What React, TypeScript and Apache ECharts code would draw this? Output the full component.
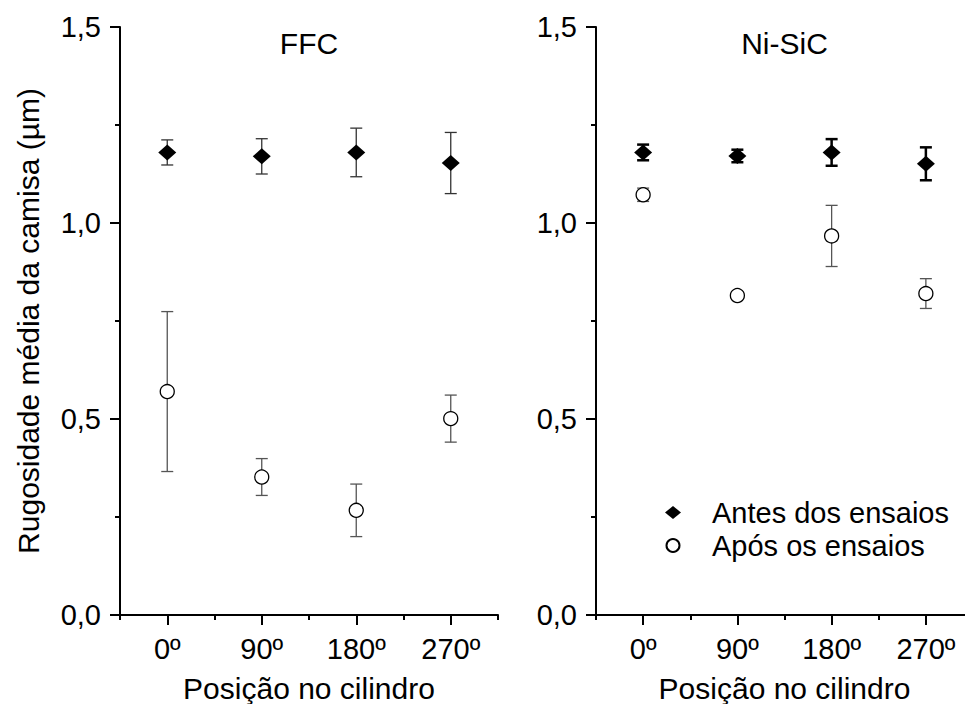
import React, { useEffect, useRef } from "react";
import * as echarts from "echarts";

const positions = ["0º", "90º", "180º", "270º"];
const ffcBefore = [1.18, 1.17, 1.18, 1.153];
const ffcBeforeErr = [0.032, 0.045, 0.062, 0.078];
const ffcAfter = [0.57, 0.352, 0.267, 0.501];
const ffcAfterErr = [0.204, 0.047, 0.067, 0.06];
const nisicBefore = [1.18, 1.171, 1.18, 1.151];
const nisicBeforeErr = [0.02, 0.016, 0.034, 0.042];
const nisicAfter = [1.072, 0.815, 0.967, 0.82];
const nisicAfterErr = [0.017, 0.008, 0.078, 0.038];
const panelTitles = ["FFC", "Ni-SiC"];
const yTitle = "Rugosidade média da camisa (µm)";
const xTitle = "Posição no cilindro";
const seriesNames = ["Antes dos ensaios", "Após os ensaios"];

const FONT = "Liberation Sans, Arial, Helvetica, sans-serif";
const FS_TICK = 29;
const FS_NAME = 30;
const FS_LEG = 29;

function errBar(gridIdx: number, vals: number[], errs: number[], color: string, width: number) {
  return {
    type: "custom",
    name: "err",
    xAxisIndex: gridIdx * 2,
    yAxisIndex: gridIdx,
    silent: true,
    z: 1,
    data: vals.map((v, i) => [i, v, errs[i]]),
    renderItem: (params: any, api: any) => {
      const x = api.value(0);
      const y = api.value(1);
      const e = api.value(2);
      const top = api.coord([x, y + e]);
      const bot = api.coord([x, y - e]);
      const hw = 6;
      const style = { stroke: color, lineWidth: width };
      return {
        type: "group",
        children: [
          { type: "line", shape: { x1: top[0], y1: top[1], x2: bot[0], y2: bot[1] }, style },
          { type: "line", shape: { x1: top[0] - hw, y1: top[1], x2: top[0] + hw, y2: top[1] }, style },
          { type: "line", shape: { x1: bot[0] - hw, y1: bot[1], x2: bot[0] + hw, y2: bot[1] }, style },
        ],
      };
    },
  };
}

function scatter(gridIdx: number, vals: number[], kind: number) {
  return {
    type: "scatter",
    name: seriesNames[kind],
    xAxisIndex: gridIdx * 2,
    yAxisIndex: gridIdx,
    z: 3,
    symbol: kind === 0 ? "diamond" : "circle",
    symbolSize: kind === 0 ? [18, 16] : 14,
    itemStyle:
      kind === 0
        ? { color: "#000", opacity: 1 }
        : { color: "#fff", borderColor: "#000", borderWidth: 1.3, opacity: 1 },
    data: vals.map((v, i) => [i, v]),
  };
}

export default function App() {
  const ref = useRef<HTMLDivElement>(null);
  useEffect(() => {
    if (!ref.current) return;
    const chart = echarts.init(ref.current, undefined, { renderer: "svg" });
    const grids = [
      { left: 120, top: 27, width: 378, height: 588, outerBoundsMode: "none", containLabel: false },
      { left: 596, top: 27, width: 377, height: 588, outerBoundsMode: "none", containLabel: false },
    ];
    const xAxes: any[] = [];
    const yAxes: any[] = [];
    grids.forEach((g, gi) => {
      xAxes.push({
        type: "category",
        gridIndex: gi,
        position: "bottom",
        data: positions,
        boundaryGap: true,
        axisLine: { show: true, lineStyle: { color: "#000", width: 2 } },
        axisTick: { show: true, alignWithLabel: true, length: 10, lineStyle: { color: "#000", width: 2 } },
        axisLabel: { color: "#000", fontSize: FS_TICK, fontFamily: FONT, margin: 19 },
        splitLine: { show: false },
        name: xTitle,
        nameLocation: "middle",
        nameGap: 58,
        nameTextStyle: { color: "#000", fontSize: FS_NAME, fontFamily: FONT, lineHeight: 30 },
      });
      xAxes.push({
        type: "category",
        gridIndex: gi,
        position: "bottom",
        offset: 0,
        data: positions,
        boundaryGap: true,
        axisLine: { show: false },
        axisTick: { show: true, length: 5, lineStyle: { color: "#000", width: 2 } },
        axisLabel: { show: false },
        splitLine: { show: false },
      });
      yAxes.push({
        type: "value",
        gridIndex: gi,
        min: 0,
        max: 1.5,
        interval: 0.5,
        axisLine: { show: true, lineStyle: { color: "#000", width: 2 } },
        axisTick: { show: true, length: 10, lineStyle: { color: "#000", width: 2 } },
        minorTick: { show: true, splitNumber: 2, length: 5, lineStyle: { color: "#000", width: 2 } },
        splitLine: { show: false },
        minorSplitLine: { show: false },
        axisLabel: {
          color: "#000",
          fontSize: FS_TICK,
          fontFamily: FONT,
          margin: 19,
          formatter: (v: number) => v.toFixed(1).replace(".", ","),
        },
        name: gi === 0 ? yTitle : "",
        nameLocation: "middle",
        nameGap: 77,
        nameTextStyle: { color: "#000", fontSize: FS_NAME, fontFamily: FONT },
      });
    });

    const option: any = {
      animation: false,
      backgroundColor: "#fff",
      grid: grids,
      xAxis: xAxes,
      yAxis: yAxes,
      legend: {
        data: [
          { name: seriesNames[0], icon: "diamond" },
          { name: seriesNames[1], icon: "circle" },
        ],
        orient: "vertical",
        left: 660,
        top: 493,
        itemWidth: 16,
        itemHeight: 13,
        itemGap: 4,
        selectedMode: false,
        textStyle: { color: "#000", fontSize: FS_LEG, fontFamily: FONT, padding: [0, 0, 0, 26] },
      },
      graphic: panelTitles.map((t, i) => ({
        type: "text",
        x: grids[i].left + grids[i].width / 2,
        y: 43,
        style: {
          text: t,
          fill: "#000",
          font: `${FS_NAME}px ${FONT}`,
          textAlign: "center",
          textVerticalAlign: "middle",
        },
      })),
      series: [
        errBar(0, ffcBefore, ffcBeforeErr, "#333", 1.3),
        errBar(0, ffcAfter, ffcAfterErr, "#555", 1.3),
        errBar(1, nisicBefore, nisicBeforeErr, "#000", 2.5),
        errBar(1, nisicAfter, nisicAfterErr, "#555", 1.3),
        scatter(0, ffcBefore, 0),
        scatter(0, ffcAfter, 1),
        scatter(1, nisicBefore, 0),
        scatter(1, nisicAfter, 1),
      ],
    };
    chart.setOption(option);
    return () => chart.dispose();
  }, []);
  return (
    <div
      ref={ref}
      style={{ position: "fixed", left: 0, top: 0, width: 965, height: 704, background: "#fff" }}
    />
  );
}
